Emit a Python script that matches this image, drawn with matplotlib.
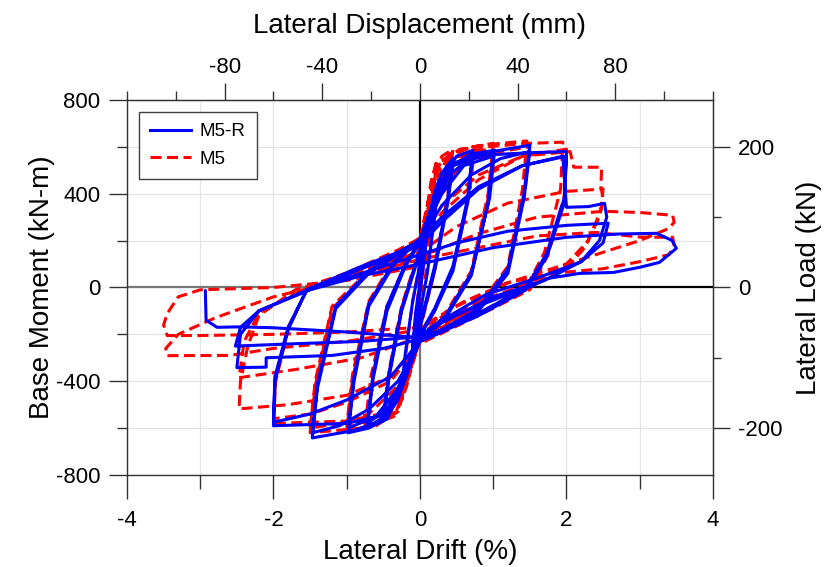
import matplotlib
matplotlib.use('Agg')
import matplotlib.pyplot as plt
from matplotlib.ticker import MultipleLocator, FixedLocator
from matplotlib.lines import Line2D

plt.rcParams['font.family'] = ['Liberation Sans', 'DejaVu Sans']
plt.rcParams['axes.unicode_minus'] = False

# ---------------- data ----------------
series_labels = ['M5-R', 'M5']
drift_ticks = [-4, -2, 0, 2, 4]
moment_ticks = [-800, -400, 0, 400, 800]
disp_ticks = [-80, -40, 0, 40, 80]
load_ticks = [-200, 0, 200]
MM_PER_PCT = 30.0        # lateral displacement (mm) per 1 % drift
KN_PER_KNM = 1.0 / 3.0   # lateral load (kN) per base moment (kN-m)

# M5-R hysteresis, (drift %, base moment kN-m), read cycle by cycle
m5r_path = [
    (0, 0),
    (0.05, 150), (0.1, 260), (0.06, 120), (0, -20), (-0.05, -140), (-0.1, -250), (-0.06, -110), (0, 20),
    (0.1, 230), (0.18, 380), (0.25, 450), (0.2, 300), (0.1, 60), (0, -110), (-0.1, -260), (-0.18, -370),
    (-0.25, -430), (-0.2, -280), (-0.1, -60), (0, 100),
    (0.1, 250), (0.2, 400), (0.3, 490), (0.45, 550), (0.38, 380), (0.2, 90), (0, -160), (-0.15, -330),
    (-0.3, -480), (-0.5, -570), (-0.42, -380), (-0.25, -100), (0, 150),
    (0.15, 300), (0.3, 450), (0.45, 530), (0.38, 360), (0.2, 70), (0, -170), (-0.2, -370), (-0.35, -480),
    (-0.5, -550), (-0.42, -360), (-0.25, -90), (0, 160),
    (0.15, 310), (0.35, 490), (0.5, 560), (0.72, 585), (0.65, 380), (0.45, 90), (0.2, -90), (0, -200),
    (-0.2, -380), (-0.4, -530), (-0.72, -600), (-0.64, -390), (-0.45, -100), (-0.2, 90), (0, 190),
    (0.2, 340), (0.4, 480), (0.72, 560), (0.65, 360), (0.45, 70), (0.2, -100), (0, -210), (-0.25, -400),
    (-0.45, -520), (-0.72, -580), (-0.64, -370), (-0.45, -80), (-0.2, 100), (0, 200),
    (0.2, 360), (0.45, 520), (0.7, 570), (1.02, 585), (0.95, 380), (0.7, 60), (0.35, -120), (0, -220),
    (-0.2, -390), (-0.45, -560), (-0.7, -600), (-0.98, -620), (-0.9, -400), (-0.7, -80), (-0.35, 100), (0, 210),
    (0.3, 400), (0.6, 520), (1.0, 560), (0.93, 360), (0.7, 50), (0.35, -130), (0, -230), (-0.3, -430),
    (-0.6, -550), (-0.98, -600), (-0.9, -380), (-0.7, -70), (-0.35, 110), (0, 200),
    (0.2, 380), (0.45, 530), (0.9, 575), (1.5, 607), (1.42, 400), (1.2, 80), (0.8, -90), (0.3, -180), (0, -220),
    (-0.2, -380), (-0.45, -560), (-0.9, -610), (-1.47, -642), (-1.4, -430), (-1.15, -90), (-0.7, 60),
    (-0.3, 140), (0, 200),
    (0.3, 350), (0.7, 480), (1.1, 550), (1.5, 580), (1.42, 380), (1.2, 60), (0.8, -100), (0.3, -190), (0, -230),
    (-0.3, -400), (-0.7, -520), (-1.1, -590), (-1.47, -620), (-1.4, -410), (-1.15, -80), (-0.7, 70),
    (-0.3, 150), (0, 200),
    (0.2, 380), (0.45, 520), (0.9, 565), (1.5, 575), (2.0, 580), (1.97, 380), (1.73, 145), (1.45, 0),
    (0.8, -110), (0.3, -180), (0, -220), (-0.2, -380), (-0.45, -540), (-1.0, -580), (-2.0, -590),
    (-1.98, -400), (-1.8, -180), (-1.55, -10), (-0.8, 90), (-0.3, 150), (0, 200),
    (0.3, 300), (0.8, 430), (1.4, 520), (2.0, 560), (1.97, 360), (1.73, 130), (1.45, -10), (0.8, -120),
    (0, -230), (-0.4, -380), (-1.0, -480), (-1.5, -540), (-2.0, -575), (-1.98, -380), (-1.8, -170),
    (-1.55, -15), (-0.8, 80), (0, 180),
    (0.3, 280), (0.8, 420), (1.4, 520), (1.95, 560), (2.0, 342), (2.3, 345), (2.52, 359), (2.55, 300),
    (2.45, 200), (2.2, 110), (1.7, 30), (1.0, -40), (0.3, -150), (0, -220), (-0.5, -260), (-1.2, -290),
    (-2.1, -300), (-2.1, -340), (-2.5, -342), (-2.45, -200), (-2.2, -100), (-1.5, -5), (-0.8, 60), (0, 140),
    (0.5, 190), (1.2, 240), (2.0, 265), (2.57, 274), (2.5, 190), (2.2, 110), (1.6, 40), (0.9, -30),
    (0.3, -140), (0, -210), (-0.8, -230), (-1.7, -240), (-2.52, -250), (-2.45, -170), (-2.2, -100),
    (-1.5, -10), (-0.8, 50), (0, 100),
    (1.0, 170), (2.0, 214), (2.7, 228), (3.23, 231), (3.44, 201), (3.5, 167), (3.27, 107), (3.0, 86),
    (2.64, 64), (2.18, 60), (1.73, 38), (1.55, 9), (1.09, -43), (0.64, -98), (0.18, -163), (0, -214),
    (-1.0, -190), (-2.0, -172), (-2.46, -168), (-2.77, -170), (-2.92, -140), (-2.93, -13),
]

# M5 hysteresis, (drift %, base moment kN-m)
m5_path = [
    (0, 0),
    (0.05, 200), (0.1, 330), (0.06, 150), (0, -30), (-0.05, -170), (-0.1, -300), (-0.06, -130), (0, 40),
    (0.08, 300), (0.15, 450), (0.22, 530), (0.17, 330), (0.08, 60), (0, -120), (-0.1, -300), (-0.18, -420),
    (-0.25, -480), (-0.2, -300), (-0.1, -60), (0, 110),
    (0.1, 330), (0.2, 500), (0.3, 560), (0.45, 590), (0.38, 400), (0.2, 80), (0, -170), (-0.15, -340),
    (-0.3, -480), (-0.5, -560), (-0.42, -370), (-0.25, -90), (0, 160),
    (0.12, 350), (0.25, 500), (0.45, 560), (0.38, 380), (0.2, 70), (0, -180), (-0.2, -380), (-0.35, -490),
    (-0.5, -540), (-0.42, -350), (-0.25, -80), (0, 170),
    (0.12, 360), (0.25, 520), (0.45, 580), (0.75, 600), (0.67, 390), (0.45, 80), (0.2, -100), (0, -200),
    (-0.15, -370), (-0.3, -520), (-0.5, -570), (-0.75, -590), (-0.67, -380), (-0.45, -80), (-0.2, 100), (0, 190),
    (0.12, 370), (0.25, 530), (0.55, 590), (1.0, 615), (0.93, 400), (0.7, 70), (0.35, -110), (0, -210),
    (-0.15, -370), (-0.3, -530), (-0.6, -590), (-1.0, -610), (-0.92, -390), (-0.7, -70), (-0.35, 110), (0, 210),
    (0.15, 360), (0.35, 520), (0.7, 580), (1.0, 590), (0.93, 380), (0.7, 60), (0.35, -120), (0, -220),
    (-0.2, -390), (-0.4, -520), (-0.7, -570), (-1.0, -590), (-0.92, -370), (-0.7, -60), (-0.35, 120), (0, 210),
    (0.12, 380), (0.28, 540), (0.7, 600), (1.1, 615), (1.46, 625), (1.4, 420), (1.2, 90), (0.8, -80),
    (0.3, -170), (0, -220), (-0.15, -380), (-0.35, -550), (-0.8, -600), (-1.5, -620), (-1.43, -420),
    (-1.2, -90), (-0.7, 60), (-0.3, 150), (0, 210),
    (0.2, 380), (0.6, 530), (1.1, 580), (1.5, 600), (1.43, 400), (1.2, 70), (0.8, -90), (0.3, -180), (0, -230),
    (-0.3, -420), (-0.7, -540), (-1.1, -580), (-1.5, -600), (-1.43, -400), (-1.2, -80), (-0.7, 70),
    (-0.3, 150), (0, 200),
    (0.15, 380), (0.35, 540), (0.9, 600), (1.5, 615), (1.95, 620), (1.92, 420), (1.7, 150), (1.45, 0),
    (0.8, -110), (0.3, -190), (0, -230), (-0.2, -400), (-0.4, -530), (-1.0, -570), (-2.0, -580),
    (-1.97, -400), (-1.8, -180), (-1.55, -10), (-0.8, 90), (-0.3, 160), (0, 210),
    (0.3, 350), (0.8, 480), (1.4, 560), (2.0, 590), (1.97, 390), (1.75, 140), (1.5, -10), (0.8, -120),
    (0, -240), (-0.4, -400), (-1.0, -490), (-1.5, -540), (-2.0, -560), (-1.97, -380), (-1.8, -170),
    (-1.55, -15), (-0.8, 80), (0, 180),
    (0.3, 320), (0.8, 460), (1.4, 560), (2.05, 580), (2.1, 513), (2.48, 513), (2.47, 430), (2.5, 380),
    (2.45, 300), (2.35, 240), (2.25, 170), (2.05, 100), (1.6, 20), (1.0, -50), (0.3, -160), (0, -230),
    (-0.4, -380), (-1.0, -460), (-1.8, -500), (-2.47, -518), (-2.45, -400), (-2.35, -250), (-2.2, -120),
    (-1.7, -10), (-0.8, 80), (0, 150),
    (0.5, 260), (1.2, 360), (2.0, 410), (2.5, 420), (2.47, 330), (2.3, 200), (2.0, 100), (1.5, 20),
    (0.8, -60), (0, -210), (-0.8, -300), (-1.7, -350), (-2.47, -385), (-2.4, -230), (-2.2, -110),
    (-1.6, -10), (-0.8, 70), (0, 130),
    (0.8, 230), (1.6, 300), (2.5, 325), (3.0, 320), (3.45, 308), (3.47, 278), (3.4, 252), (3.0, 200),
    (2.4, 140), (1.8, 80), (1.2, 20), (0.5, -80), (0, -180), (-1.0, -230), (-2.0, -260), (-2.6, -290),
    (-3.45, -291), (-3.47, -260), (-3.3, -200), (-2.8, -130), (-2.0, -40), (-1.2, 20), (0, 120),
    (0.8, 170), (1.6, 220), (2.4, 235), (3.0, 215), (3.45, 214), (3.47, 180), (3.4, 140), (3.0, 110),
    (2.5, 80), (1.8, 60), (1.2, 20), (0.6, -60), (0, -170), (-1.0, -190), (-2.0, -200), (-3.0, -205),
    (-3.45, -205), (-3.5, -160), (-3.45, -111), (-3.3, -40), (-3.0, -10), (-2.0, 0), (-1.0, 30), (0, 90),
]

# ---------------- figure ----------------
fig = plt.figure(figsize=(8.37, 5.67), dpi=100)
ax = fig.add_axes([0.1517, 0.1623, 0.7001, 0.6614])
ax.set_xlim(-4, 4)
ax.set_ylim(-800, 800)

ax.xaxis.set_major_locator(FixedLocator(drift_ticks))
ax.xaxis.set_minor_locator(MultipleLocator(1))
ax.yaxis.set_major_locator(FixedLocator(moment_ticks))
ax.yaxis.set_minor_locator(MultipleLocator(200))
ax.grid(which='both', color='#e4e4e4', lw=0.9, zorder=0)
ax.set_axisbelow(True)

# zero reference lines
ax.plot([-4, 0], [0, 0], color='#777777', lw=1.6, zorder=1)
ax.plot([0, 4], [0, 0], color='black', lw=1.6, zorder=1)
ax.plot([0, 0], [-800, 0], color='#777777', lw=1.6, zorder=1)
ax.plot([0, 0], [0, 800], color='black', lw=1.6, zorder=1)

red_x = [p[0] for p in m5_path]
red_y = [p[1] for p in m5_path]
blue_x = [p[0] for p in m5r_path]
blue_y = [p[1] for p in m5r_path]

dash = (0, (3.6, 1.8))
ax.plot(red_x, red_y, color='#ff0000', lw=2.2, ls=dash, zorder=3,
        solid_joinstyle='round', dash_joinstyle='round')
ax.plot(blue_x, blue_y, color='#0000ff', lw=2.2, zorder=4,
        solid_joinstyle='round', solid_capstyle='round')

handles = [Line2D([], [], color='#0000ff', lw=2.2),
           Line2D([], [], color='#ff0000', lw=2.2, ls=dash)]
leg = ax.legend(handles, series_labels, loc='upper left', bbox_to_anchor=(0.0205, 0.968),
                borderaxespad=0, fontsize=13.5, frameon=True, fancybox=False,
                edgecolor='#404040', framealpha=1, handlelength=2.2, handletextpad=0.45,
                borderpad=0.6, labelspacing=0.55)
leg.get_frame().set_linewidth(1.0)

for s in ax.spines.values():
    s.set_color('#333333')
    s.set_linewidth(1.0)

tick_kw = dict(direction='out', color='#333333', width=1.0, labelsize=16)
ax.tick_params(axis='y', which='major', length=13, pad=6, **tick_kw)
ax.tick_params(axis='y', which='minor', length=7, **tick_kw)
ax.tick_params(axis='x', which='major', length=17, pad=8, **tick_kw)
ax.tick_params(axis='x', which='minor', length=10, **tick_kw)
ax.set_xticklabels([str(t) for t in drift_ticks])
ax.set_yticklabels([str(t) for t in moment_ticks])

ax.set_xlabel('Lateral Drift (%)', fontsize=20, labelpad=6)
ax.set_ylabel('Base Moment (kN-m)', fontsize=20, labelpad=1)

secx = ax.secondary_xaxis('top', functions=(lambda d: d * MM_PER_PCT, lambda m: m / MM_PER_PCT))
secx.xaxis.set_major_locator(FixedLocator(disp_ticks))
secx.xaxis.set_minor_locator(MultipleLocator(20))
secx.tick_params(which='major', length=12, pad=4, **tick_kw)
secx.tick_params(which='minor', length=6.5, **tick_kw)
secx.set_xticklabels([str(t) for t in disp_ticks])
secx.set_xlabel('Lateral Displacement (mm)', fontsize=20, labelpad=17)
secx.spines['top'].set_color('#333333')

secy = ax.secondary_yaxis('right', functions=(lambda m: m * KN_PER_KNM, lambda k: k / KN_PER_KNM))
secy.yaxis.set_major_locator(FixedLocator(load_ticks))
secy.yaxis.set_minor_locator(MultipleLocator(100))
secy.tick_params(which='major', length=12, pad=6, **tick_kw)
secy.tick_params(which='minor', length=6, **tick_kw)
secy.set_yticklabels([str(t) for t in load_ticks])
secy.set_ylabel('Lateral Load (kN)', fontsize=20, labelpad=10)
secy.spines['right'].set_color('#333333')

fig.savefig('out.png', dpi=100)
